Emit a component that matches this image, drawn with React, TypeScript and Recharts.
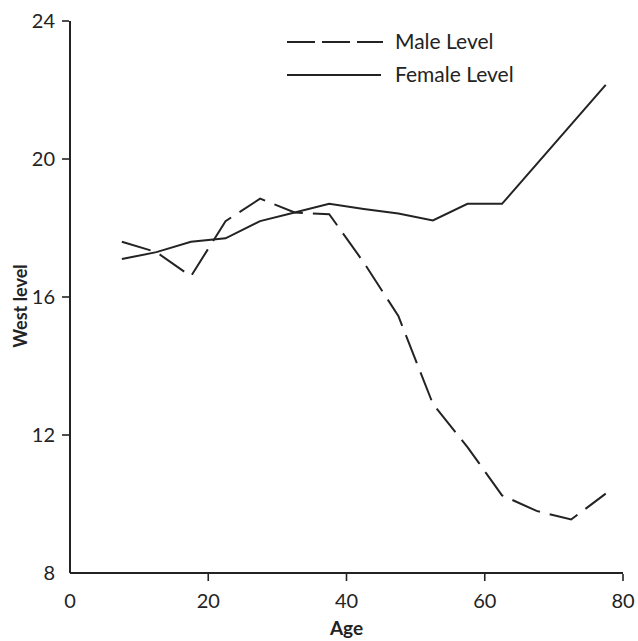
import React from "react";
import { LineChart, Line, XAxis, YAxis } from "recharts";

// ages are midpoints of 5-year groups
const maleAges = [7.5, 12.5, 17.5, 22.5, 27.5, 32.5, 37.5, 42.5, 47.5, 52.5, 57.5, 62.5, 67.5, 72.5, 77.5];
const maleLevel = [17.6, 17.3, 16.6, 18.2, 18.85, 18.45, 18.4, 17.0, 15.45, 12.9, 11.65, 10.25, 9.8, 9.55, 10.3];

const femaleAges = [7.5, 12.5, 17.5, 22.5, 27.5, 32.5, 37.5, 42.5, 47.5, 52.5, 57.5, 62.5, 77.5];
const femaleLevel = [17.1, 17.3, 17.6, 17.7, 18.2, 18.45, 18.7, 18.55, 18.42, 18.22, 18.7, 18.7, 22.15];

const xTicks = [0, 20, 40, 60, 80];
const yTicks = [8, 12, 16, 20, 24];

const maleData = maleAges.map((age, i) => ({ age, value: maleLevel[i] }));
const femaleData = femaleAges.map((age, i) => ({ age, value: femaleLevel[i] }));

const INK = "#232323";
const FONT = "Lato, 'Open Sans', sans-serif";

const XTick = ({ x, y, payload }: any) => (
  <g>
    {payload.value !== 0 && (
      <line x1={x} x2={x} y1={y} y2={y - 7} stroke={INK} strokeWidth={1.6} />
    )}
    <text x={x} y={y + 27} textAnchor="middle" fontSize={20} fill={INK} fontFamily={FONT}>
      {payload.value}
    </text>
  </g>
);

const YTick = ({ x, y, payload }: any) => (
  <g>
    {payload.value !== 8 && (
      <line x1={x} x2={x + 7} y1={y} y2={y} stroke={INK} strokeWidth={1.6} />
    )}
    <text x={x - 7} y={y + 7} textAnchor="end" fontSize={20} fill={INK} fontFamily={FONT}>
      {payload.value}
    </text>
  </g>
);

// y-axis title, drawn rotated at the left edge
const YTitle = () => (
  <text
    transform="translate(27, 306) rotate(-90)"
    textAnchor="middle"
    fontSize={18}
    fontWeight={700}
    fill={INK}
    fontFamily={FONT}
  >
    West level
  </text>
);

const LegendBox = () => (
  <svg width={280} height={80} style={{ position: "absolute", top: 20, left: 280, overflow: "visible" }}>
    <line x1={7} x2={103} y1={22} y2={22} stroke={INK} strokeWidth={2} strokeDasharray="28 7" />
    <text x={115} y={29} fontSize={21} fill={INK} fontFamily={FONT}>Male Level</text>
    <line x1={7} x2={101} y1={55} y2={55} stroke={INK} strokeWidth={2} />
    <text x={115} y={62} fontSize={21} fill={INK} fontFamily={FONT}>Female Level</text>
  </svg>
);

export default function App() {
  return (
    <div style={{ position: "absolute", top: 0, left: 0, width: 638, height: 641, background: "#fff" }}>
      <LineChart width={638} height={641} margin={{ top: 21, right: 15, left: 0, bottom: 0 }}>
        <XAxis
          type="number"
          dataKey="age"
          domain={[0, 80]}
          ticks={xTicks}
          allowDataOverflow
          height={68}
          axisLine={{ stroke: INK, strokeWidth: 2 }}
          tickLine={false}
          tick={<XTick />}
          label={{ value: "Age", position: "insideBottom", offset: 6, fontSize: 19, fontWeight: 700, fill: INK, fontFamily: FONT }}
        />
        <YAxis
          type="number"
          dataKey="value"
          domain={[8, 24]}
          ticks={yTicks}
          allowDataOverflow
          width={70}
          axisLine={{ stroke: INK, strokeWidth: 2 }}
          tickLine={false}
          tick={<YTick />}
          label={{ content: <YTitle /> }}
        />
        <Line
          data={maleData}
          dataKey="value"
          stroke={INK}
          strokeWidth={2}
          strokeDasharray="30 10"
          dot={false}
          isAnimationActive={false}
          type="linear"
        />
        <Line
          data={femaleData}
          dataKey="value"
          stroke={INK}
          strokeWidth={2}
          dot={false}
          isAnimationActive={false}
          type="linear"
        />
      </LineChart>
      <LegendBox />
    </div>
  );
}
